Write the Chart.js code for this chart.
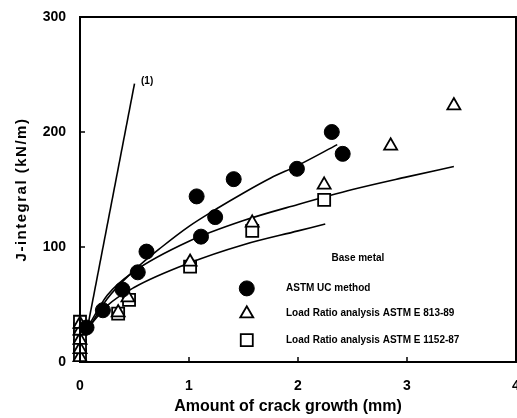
<!DOCTYPE html>
<html>
<head>
<meta charset="utf-8">
<script src="https://cdn.jsdelivr.net/npm/chart.js@4.4.1/dist/chart.umd.min.js"></script>
<style>
  html, body { margin: 0; padding: 0; background: #fff; overflow: hidden; }
  #wrap { width: 517px; height: 418px; position: relative; }
</style>
</head>
<body>
<div id="wrap"><canvas id="chart-j"></canvas></div>
<script>
// measured points (crack growth mm, J kN/m)
const ucX  = [0.06, 0.21, 0.39, 0.53, 0.61, 1.07, 1.11, 1.24, 1.41, 1.99, 2.31, 2.41];
const ucY  = [30, 45, 63, 78, 96, 144, 109, 126, 159, 168, 200, 181];
const e813X = [0, 0, 0, 0, 0, 0.35, 0.44, 1.01, 1.58, 2.24, 2.85, 3.43];
const e813Y = [4, 11, 19, 27, 33, 43, 56, 87, 121, 154, 188, 223];
const e1152X = [0, 0, 0, 0, 0, 0.35, 0.45, 1.01, 1.58, 2.24];
const e1152Y = [6, 14, 22, 29, 35, 42, 54, 83, 114, 141];

// fitted curves
const fitUcX  = [0.07, 0.25, 0.5, 0.75, 1.0, 1.25, 1.5, 1.75, 2.0, 2.36];
const fitUcY  = [28, 55, 80, 100, 118, 133, 147, 160, 171, 189];
const fit813X = [0.07, 0.25, 0.5, 1.0, 1.5, 2.0, 2.5, 3.0, 3.43];
const fit813Y = [30, 58, 79, 105, 123, 137, 150, 161, 170];
const fit1152X = [0.07, 0.25, 0.5, 1.0, 1.5, 2.0, 2.25];
const fit1152Y = [29, 49, 65, 86, 102, 114, 120];
const line1X = [0.065, 0.5];
const line1Y = [28, 242];

const xTicks = [0, 1, 2, 3, 4];
const yTicks = [0, 100, 200, 300];

const LEGEND = [
  { label: 'ASTM UC method', style: 'circle', y: 64 },
  { label: 'Load Ratio analysis ASTM E 813-89', style: 'triangle', y: 42 },
  { label: 'Load Ratio analysis ASTM E 1152-87', style: 'rect', y: 19 }
];

const FONT = "'Liberation Sans', Arial, sans-serif";
const pts = (xs, ys) => xs.map((x, i) => ({ x, y: ys[i] }));

function fitLine(xs, ys) {
  return {
    type: 'line', data: pts(xs, ys), borderColor: '#000', borderWidth: 1.6,
    pointRadius: 0, fill: false, cubicInterpolationMode: 'monotone'
  };
}

const framePlugin = {
  id: 'frame',
  afterDatasetsDraw(chart) {
    const { ctx, chartArea: a, scales: { x, y } } = chart;
    ctx.save();
    ctx.strokeStyle = '#000';
    ctx.lineWidth = 2;
    ctx.strokeRect(a.left, a.top, a.right - a.left, a.bottom - a.top);
    ctx.lineWidth = 1.5;
    xTicks.forEach(v => {
      const px = x.getPixelForValue(v);
      ctx.beginPath(); ctx.moveTo(px, a.bottom); ctx.lineTo(px, a.bottom - 5); ctx.stroke();
    });
    yTicks.forEach(v => {
      const py = y.getPixelForValue(v);
      ctx.beginPath(); ctx.moveTo(a.left, py); ctx.lineTo(a.left + 5, py); ctx.stroke();
    });

    ctx.fillStyle = '#000';
    ctx.textBaseline = 'middle';

    // axis titles (spread letters like the scan)
    ctx.font = 'bold 16px ' + FONT;
    ctx.textAlign = 'center';
    ctx.fillText('Amount of crack growth (mm)', 288, 407);
    ctx.save();
    ctx.translate(22, (a.top + a.bottom) / 2);
    ctx.rotate(-Math.PI / 2);
    ctx.font = 'bold 15px ' + FONT;
    ctx.letterSpacing = '1.5px';
    ctx.fillText('J-integral (kN/m)', 0, 0);
    ctx.restore();

    // label of line (1)
    ctx.font = 'bold 10px ' + FONT;
    ctx.textAlign = 'left';
    ctx.fillText('(1)', x.getPixelForValue(0.56), y.getPixelForValue(244));

    // legend inside plot
    ctx.textAlign = 'center';
    ctx.fillText('Base metal', x.getPixelForValue(2.55), y.getPixelForValue(90));
    ctx.textAlign = 'left';
    LEGEND.forEach((it, i) => {
      const ds = chart.data.datasets[i];
      const px = x.getPixelForValue(1.53), py = y.getPixelForValue(it.y);
      ctx.fillStyle = ds.pointBackgroundColor;
      ctx.strokeStyle = '#000';
      ctx.lineWidth = ds.pointBorderWidth;
      Chart.helpers.drawPoint(ctx, { pointStyle: it.style, radius: ds.pointRadius, rotation: 0, borderWidth: ds.pointBorderWidth }, px, py);
      ctx.fillStyle = '#000';
      ctx.fillText(it.label, x.getPixelForValue(1.89), py);
    });
    ctx.restore();
  }
};

new Chart(document.getElementById('chart-j'), {
  type: 'scatter',
  data: {
    datasets: [
      { label: 'ASTM UC method', data: pts(ucX, ucY), pointStyle: 'circle', pointRadius: 7.5,
        pointBackgroundColor: '#000', pointBorderColor: '#000', pointBorderWidth: 1, clip: false },
      { label: 'Load Ratio analysis ASTM E 813-89', data: pts(e813X, e813Y), pointStyle: 'triangle', pointRadius: 7.5,
        pointBackgroundColor: '#fff', pointBorderColor: '#000', pointBorderWidth: 1.8, clip: false },
      { label: 'Load Ratio analysis ASTM E 1152-87', data: pts(e1152X, e1152Y), pointStyle: 'rect', pointRadius: 8.5,
        pointBackgroundColor: '#fff', pointBorderColor: '#000', pointBorderWidth: 1.8, clip: false },
      fitLine(fitUcX, fitUcY),
      fitLine(fit813X, fit813Y),
      fitLine(fit1152X, fit1152Y),
      fitLine(line1X, line1Y)
    ]
  },
  options: {
    responsive: true, maintainAspectRatio: false, animation: false,
    layout: { autoPadding: false, padding: { top: 17, right: 1, left: 0, bottom: 0 } },
    plugins: { legend: { display: false }, tooltip: { enabled: false } },
    scales: {
      x: {
        type: 'linear', min: 0, max: 4,
        afterBuildTicks: s => { s.ticks = xTicks.map(v => ({ value: v })); },
        afterFit: s => { s.height = 56; s.paddingRight = 0; s.paddingLeft = 0; },
        grid: { drawOnChartArea: false, drawTicks: false },
        border: { display: false },
        ticks: { color: '#000', padding: 16, font: { family: FONT, size: 14, weight: 'bold' } }
      },
      y: {
        type: 'linear', min: 0, max: 300,
        afterBuildTicks: s => { s.ticks = yTicks.map(v => ({ value: v })); },
        afterFit: s => { s.width = 80; s.paddingTop = 0; s.paddingBottom = 0; },
        grid: { drawOnChartArea: false, drawTicks: false },
        border: { display: false },
        ticks: { color: '#000', padding: 14, font: { family: FONT, size: 14, weight: 'bold' } }
      }
    }
  },
  plugins: [framePlugin]
});
</script>
</body>
</html>
